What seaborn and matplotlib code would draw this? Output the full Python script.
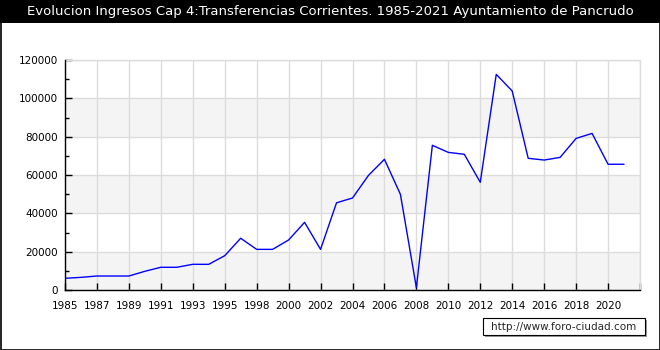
import matplotlib
matplotlib.use("Agg")
import matplotlib.pyplot as plt
import pandas as pd
import seaborn as sns
from matplotlib.patches import Rectangle
from matplotlib.ticker import MultipleLocator

# datos (1997 no aparece en la serie)
years = list(range(1985, 1997)) + list(range(1998, 2022))
values = [6100, 6600, 7300, 7300, 7300, 9750, 11850, 11850, 13400, 13400,
          17900, 27000, 21200, 21200, 26100, 35300, 21200, 45500, 48000, 59800,
          68200, 49900, 1200, 75500, 71800, 70800, 56200, 112500, 103800, 68700,
          67800, 69200, 79100, 81700, 65600, 65600]
title = "Evolucion Ingresos Cap 4:Transferencias Corrientes. 1985-2021 Ayuntamiento de Pancrudo"

df = pd.DataFrame({"pos": range(len(years)), "year": years, "value": values})

sns.set_style("white")
plt.rcParams['font.family'] = ['DejaVu Sans']

W, H = 660, 350
fig = plt.figure(figsize=(6.6, 3.5), dpi=100)
ax = fig.add_axes([65 / W, 60 / H, 575 / W, 230 / H])

# bandas grises alternas
for y0 in (0, 40000, 80000):
    ax.axhspan(y0, y0 + 20000, color='#f4f4f4', zorder=0, lw=0)

sns.lineplot(data=df, x="pos", y="value", ax=ax, color='#0000ff', lw=1, zorder=3)

ax.set_xlim(0, 36)
ax.set_ylim(0, 120000)
ax.set_xlabel('')
ax.set_ylabel('')

xt = list(range(0, 37, 2))
ax.set_xticks(xt)
ax.set_xticklabels([str(years[i]) if i < len(years) else '' for i in xt])
ax.yaxis.set_major_locator(MultipleLocator(20000))
ax.yaxis.set_minor_locator(MultipleLocator(10000))

ax.grid(True, which='major', color='#dcdcdc', lw=1, zorder=1)
ax.set_axisbelow(True)
ax.axhline(120000, color='#dcdcdc', lw=1, clip_on=False, zorder=1)
ax.axvline(36, color='#dcdcdc', lw=1, clip_on=False, zorder=1)
for s in ('top', 'right'):
    ax.spines[s].set_visible(False)
for s in ('left', 'bottom'):
    ax.spines[s].set_color('black')
    ax.spines[s].set_linewidth(1)
    ax.spines[s].set_zorder(4)

ax.tick_params(axis='both', which='both', bottom=True, left=True)
ax.tick_params(axis='both', which='major', direction='in', length=5, width=1,
               color='black', labelsize=7.5, labelcolor='black')
ax.tick_params(axis='y', which='minor', direction='in', length=3, width=1, color='black')
ax.tick_params(axis='x', pad=8)
ax.tick_params(axis='y', pad=5)

# banda del título y marco
fig.patches.append(Rectangle((0, 1 - 23 / H), 1, 23 / H, transform=fig.transFigure,
                             facecolor='black', edgecolor='none', zorder=0))
fig.patches.append(Rectangle((0.5 / W, 0.5 / H), 659 / W, 349 / H, transform=fig.transFigure,
                             facecolor='none', edgecolor='black', lw=1.2, zorder=5))
fig.text(0.5, 1 - 12 / H, title, color='white', fontsize=9.5, ha='center', va='center')

# marca de agua con sombra
fig.patches.append(Rectangle((485 / W, 1 - 337 / H), 162 / W, 17 / H, transform=fig.transFigure,
                             facecolor='#999999', edgecolor='none', zorder=1))
fig.patches.append(Rectangle((483 / W, 1 - 335 / H), 162 / W, 17 / H, transform=fig.transFigure,
                             facecolor='white', edgecolor='black', lw=0.8, zorder=2))
fig.text(564 / W, 1 - 326.5 / H, "http://www.foro-ciudad.com", fontsize=7.5, ha='center', va='center',
         zorder=3)

fig.savefig('out.png', dpi=100)
